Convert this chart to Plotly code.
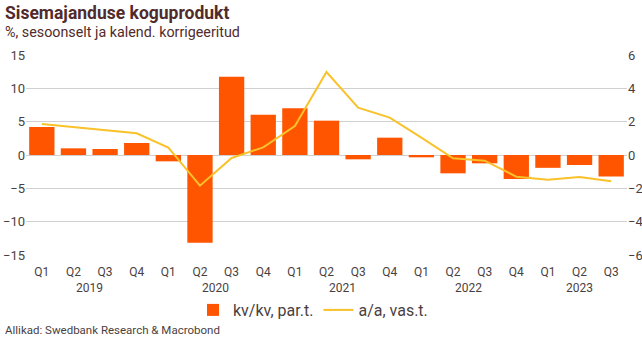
import plotly.graph_objects as go

quarters = ["Q1", "Q2", "Q3", "Q4", "Q1", "Q2", "Q3", "Q4", "Q1", "Q2", "Q3", "Q4",
            "Q1", "Q2", "Q3", "Q4", "Q1", "Q2", "Q3"]
years = ["2019", "2020", "2021", "2022", "2023"]
year_pos = [1.5, 5.5, 9.5, 13.5, 17]

# kv/kv, par.t. (right axis)
qoq = [1.68, 0.40, 0.36, 0.72, -0.38, -5.26, 4.70, 2.42, 2.80, 2.06, -0.26, 1.04,
       -0.14, -1.10, -0.50, -1.44, -0.77, -0.60, -1.29]
# a/a, vas.t. (left axis)
yoy = [4.65, 4.2, 3.7, 3.25, 1.1, -4.6, -0.45, 1.15, 4.35, 12.45, 7.1, 5.6,
       2.6, -0.5, -0.85, -3.25, -3.7, -3.3, -3.95]

x = list(range(len(quarters)))

TXT = "#512B2B"
TICK = "#4a3f3f"
FONT = "Roboto"
NARROW = "Liberation Sans Narrow, Roboto"

fig = go.Figure()
fig.add_trace(go.Bar(x=x, y=qoq, name="kv/kv, par.t.", marker_color="#FF5500",
                     marker_line_width=0, yaxis="y"))
fig.add_trace(go.Scatter(x=x, y=yoy, name="a/a, vas.t.", mode="lines",
                         line=dict(color="#F9C12A", width=2), yaxis="y2"))

def px_x(p):
    return (p - 26) / 601.0
def px_y(p):
    return (255 - p) / 200.0

fig.update_layout(
    width=642, height=340,
    margin=dict(l=26, r=15, t=55, b=85),
    paper_bgcolor="white", plot_bgcolor="white",
    font=dict(family=FONT, size=12, color=TICK),
    bargap=0.2,
    showlegend=True,
    legend=dict(orientation="h", x=px_x(313), xanchor="center", y=px_y(310),
                yanchor="middle", font=dict(size=16, color=TICK, family=NARROW),
                itemwidth=30, traceorder="normal", tracegroupgap=0),
    xaxis=dict(tickmode="array", tickvals=x, ticktext=quarters, range=[-0.5, 18.5],
               showgrid=False, zeroline=False, showline=False, ticks="",
               ticklabelstandoff=8, automargin=False,
               tickfont=dict(size=12, color=TICK)),
    yaxis=dict(side="right", range=[-6, 6], tickvals=[-6, -4, -2, 0, 2, 4, 6],
               showgrid=True, gridcolor="#d0d0d0", gridwidth=1, zeroline=True,
               zerolinecolor="#d0d0d0", zerolinewidth=1, ticks="", automargin=False,
               tickfont=dict(size=13, color=TICK)),
    yaxis2=dict(side="left", overlaying="y", range=[-15, 15],
                tickvals=[-15, -10, -5, 0, 5, 10, 15], showgrid=False, zeroline=False,
                ticks="", automargin=False, tickfont=dict(size=13, color=TICK)),
)

ann = [
    dict(text="<b>Sisemajanduse koguprodukt</b>", x=px_x(3), y=px_y(1),
         xref="paper", yref="paper", xanchor="left", yanchor="top", showarrow=False,
         font=dict(size=17.5, color=TXT, family=FONT)),
    dict(text="%, sesoonselt ja kalend. korrigeeritud", x=px_x(3), y=px_y(32),
         xref="paper", yref="paper", showarrow=False, xanchor="left", yanchor="middle",
         font=dict(size=14.3, color=TXT, family=FONT)),
    dict(text="Allikad: Swedbank Research &amp; Macrobond", x=px_x(3), y=px_y(330),
         xref="paper", yref="paper", showarrow=False, xanchor="left", yanchor="middle",
         font=dict(size=11.5, color=TICK, family=NARROW)),
]
for yr, pos in zip(years, year_pos):
    ann.append(dict(text=yr, x=pos, xref="x", y=px_y(288), yref="paper", showarrow=False,
                    xanchor="center", yanchor="middle",
                    font=dict(size=12, color=TICK, family=FONT)))
fig.update_layout(annotations=ann)

fig.write_html("out.html")
